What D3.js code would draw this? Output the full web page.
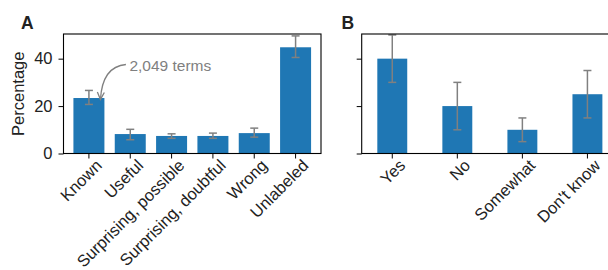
<!DOCTYPE html>
<html>
<head>
<meta charset="utf-8">
<script src="https://cdn.jsdelivr.net/npm/d3@7"></script>
<style>
  body { margin: 0; background: #fff; }
  text { font-family: "Liberation Sans", Arial, sans-serif; }
</style>
</head>
<body>
<div id="chart"></div>
<script>
// panel A: evaluation of terms
const catsA = ["Known", "Useful", "Surprising, possible", "Surprising, doubtful", "Wrong", "Unlabeled"];
const valsA = [23.4, 8.2, 7.4, 7.4, 8.6, 44.8];
const lowA  = [20.7, 5.8, 6.4, 6.4, 6.9, 40.5];
const highA = [26.6, 10.2, 8.3, 8.6, 10.7, 49.6];

// panel B: survey answers
const catsB = ["Yes", "No", "Somewhat", "Don't know"];
const valsB = [40, 20, 10, 25];
const lowB  = [30, 10, 5, 15];
const highB = [50, 30, 15, 35];

const yTicks = [0, 20, 40];

const W = 608, H = 270;
const TOP = 34, BOTTOM = 153.5;
const BAR = "#1f77b4", ERR = "#808080", INK = "#222";

const svg = d3.select("#chart").append("svg")
  .attr("width", W)
  .attr("height", H);

// shared y scale for both panels
const y = d3.scaleLinear()
  .domain([0, 50.4])
  .range([BOTTOM, TOP]);

function panel(cats, vals, low, high, left, right, pad, showLabels) {
  const x = d3.scaleBand()
    .domain(cats)
    .range([left, right])
    .paddingInner(pad)
    .paddingOuter(0.24);

  const g = svg.append("g");

  g.selectAll("rect.bar")
    .data(cats)
    .enter().append("rect")
      .attr("class", "bar")
      .attr("x", d => x(d))
      .attr("y", (d, i) => y(vals[i]))
      .attr("width", x.bandwidth())
      .attr("height", (d, i) => y(0) - y(vals[i]))
      .attr("fill", BAR);

  // error bars
  const eb = g.selectAll("g.err")
    .data(cats)
    .enter().append("g")
      .attr("class", "err")
      .attr("transform", d => `translate(${x(d) + x.bandwidth() / 2},0)`)
      .attr("stroke", ERR)
      .attr("stroke-width", 1.5);
  eb.append("line")
    .attr("y1", (d, i) => y(low[i]))
    .attr("y2", (d, i) => y(high[i]));
  eb.append("line")
    .attr("x1", -4).attr("x2", 4)
    .attr("y1", (d, i) => y(low[i]))
    .attr("y2", (d, i) => y(low[i]));
  eb.append("line")
    .attr("x1", -4).attr("x2", 4)
    .attr("y1", (d, i) => y(high[i]))
    .attr("y2", (d, i) => y(high[i]));

  // frame
  g.append("rect")
    .attr("x", left).attr("y", TOP)
    .attr("width", right - left).attr("height", BOTTOM - TOP)
    .attr("fill", "none")
    .attr("stroke", "#000")
    .attr("stroke-width", 1.1);

  const yAxis = g.append("g")
    .attr("transform", `translate(${left},0)`)
    .call(d3.axisLeft(y).tickValues(yTicks).tickSize(5).tickPadding(6)
      .tickFormat(showLabels ? d3.format("d") : ""));
  yAxis.select(".domain").remove();
  yAxis.selectAll("text")
    .attr("fill", INK)
    .style("font-size", "16.5px");

  const xAxis = g.append("g")
    .attr("transform", `translate(0,${BOTTOM})`)
    .call(d3.axisBottom(x).tickSize(5));
  xAxis.select(".domain").remove();
  xAxis.selectAll("text")
    .attr("y", null).attr("dy", null)
    .attr("text-anchor", "end")
    .attr("transform", "translate(14,13) rotate(-45)")
    .attr("fill", INK)
    .style("font-size", "16.5px");

  return x;
}

const xA = panel(catsA, valsA, lowA, highA, 63.5, 321, 0.25, true);
const xB = panel(catsB, valsB, lowB, highB, 361.7, 618, 0.54, false);

// panel letters
svg.append("text")
  .attr("x", 21).attr("y", 29)
  .text("A")
  .style("font-weight", "bold")
  .style("font-size", "17.5px")
  .attr("fill", INK);
svg.append("text")
  .attr("x", 341.5).attr("y", 29)
  .text("B")
  .style("font-weight", "bold")
  .style("font-size", "17.5px")
  .attr("fill", INK);

// y label
svg.append("text")
  .attr("transform", `translate(24,${(TOP + BOTTOM) / 2}) rotate(-90)`)
  .attr("text-anchor", "middle")
  .text("Percentage")
  .style("font-size", "16.5px")
  .attr("fill", INK);

// annotation on the "Known" bar
const kx = xA("Known") + xA.bandwidth() / 2;
const tx = kx + 40.5, ty = y(35);
svg.append("text")
  .attr("x", tx).attr("y", ty)
  .text("2,049 terms")
  .style("font-size", "15.5px")
  .attr("fill", ERR);

const sx = tx - 3.5, sy = ty - 6;
const ex = kx + 11.5, ey = y(highA[0]) + 9;
const cx = ex + 2, cy = sy + 2;
svg.append("path")
  .attr("d", `M${sx},${sy} Q${cx},${cy} ${ex},${ey}`)
  .attr("fill", "none")
  .attr("stroke", ERR)
  .attr("stroke-width", 1.3);
// arrow head, along the end tangent
const ang = Math.atan2(ey - cy, ex - cx);
const hl = 8, hw = 0.45;
svg.append("path")
  .attr("d", `M${ex - hl * Math.cos(ang - hw)},${ey - hl * Math.sin(ang - hw)} L${ex},${ey} L${ex - hl * Math.cos(ang + hw)},${ey - hl * Math.sin(ang + hw)}`)
  .attr("fill", "none")
  .attr("stroke", ERR)
  .attr("stroke-width", 1.3);
</script>
</body>
</html>
